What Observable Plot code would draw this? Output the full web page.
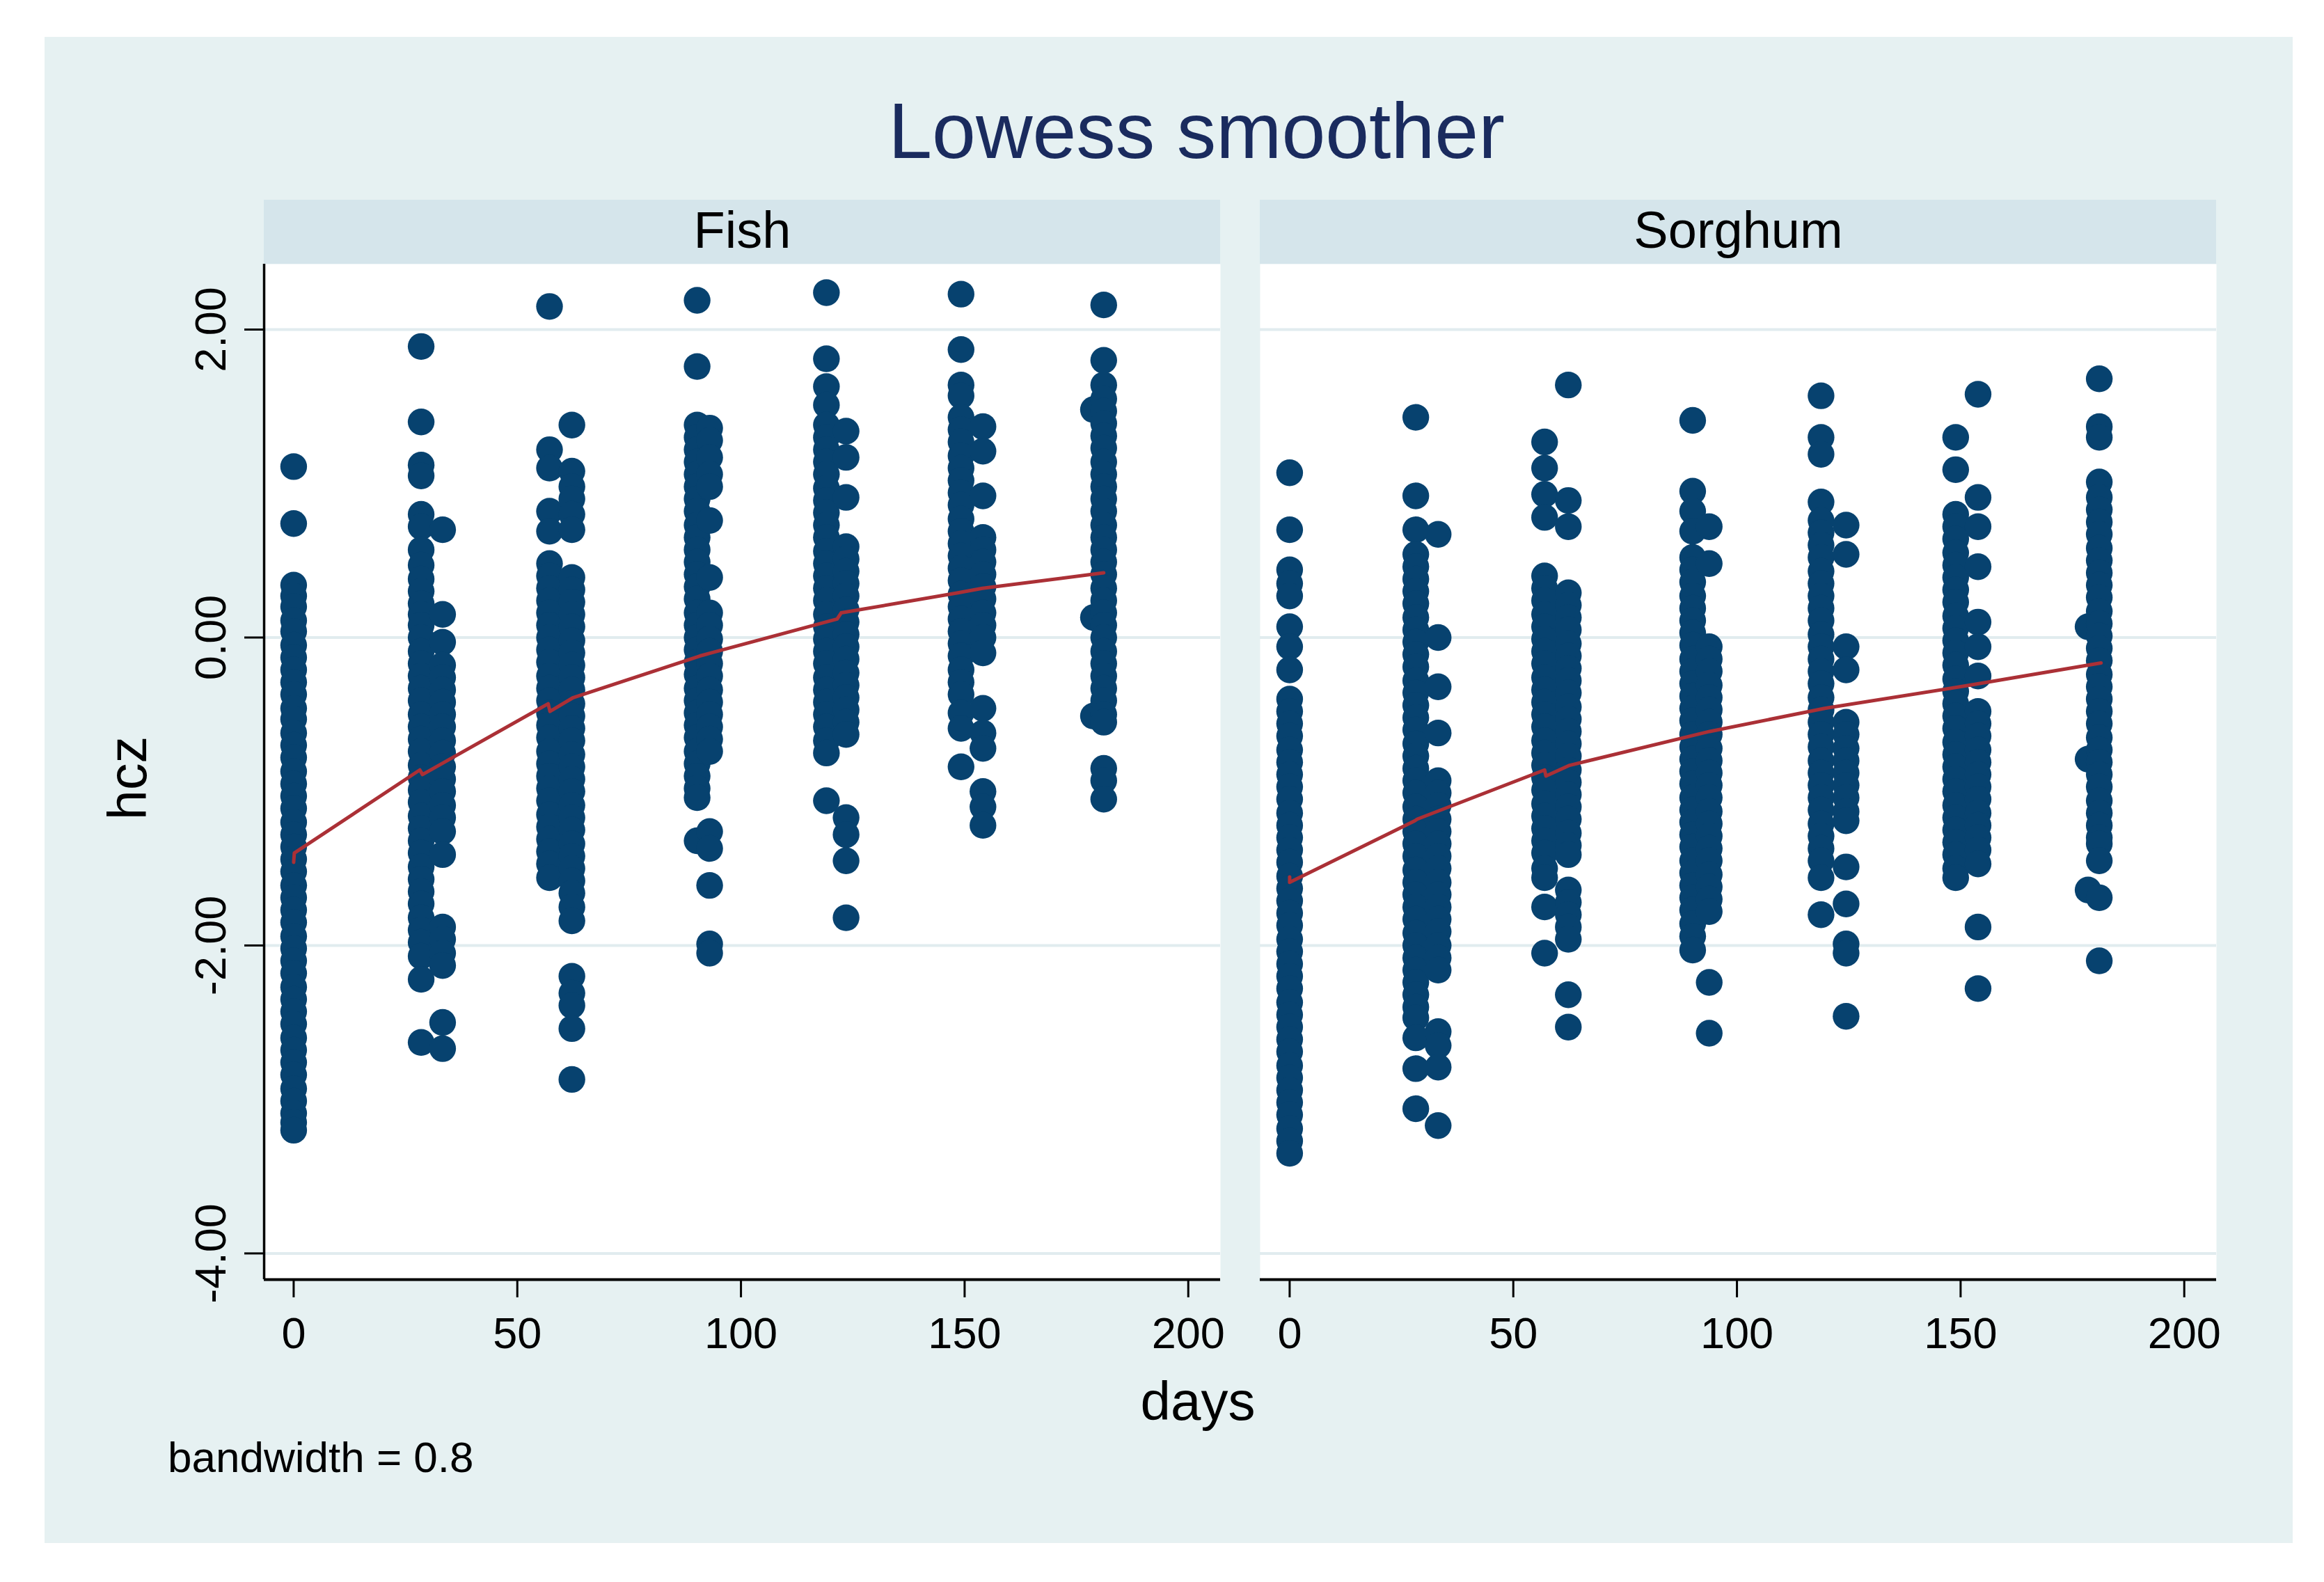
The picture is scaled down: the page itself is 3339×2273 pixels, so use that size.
<!DOCTYPE html>
<html><head><meta charset="utf-8">
<script src="https://cdn.jsdelivr.net/npm/d3@7"></script>
<script src="https://cdn.jsdelivr.net/npm/@observablehq/plot@0.6"></script>
<style>
html,body{margin:0;padding:0;background:#fff;}
#wrap{position:relative;width:3339px;height:2273px;font-family:"Liberation Sans",Arial,Helvetica,sans-serif;overflow:hidden;}
#bg{position:absolute;left:64px;top:53px;width:3230px;height:2164px;background:#e6f1f2;}
#chart{position:absolute;left:0;top:0;}
.t{position:absolute;white-space:nowrap;line-height:1;color:#000;}
#title{left:1719px;top:132px;font-size:113px;color:#1a2b5e;transform:translateX(-50%);}
#xlab{left:1721px;top:1974px;font-size:78px;transform:translateX(-50%);}
#ylab{left:210px;top:1118px;font-size:77px;transform-origin:0 0;transform:rotate(-90deg) translate(-50%,-0.8465em);}
#note{left:241px;top:2063px;font-size:62px;white-space:pre;}
</style></head><body>
<div id="wrap">
  <div id="bg"></div>
  <div id="chart"></div>
  <div class="t" id="title">Lowess smoother</div>
  <div class="t" id="xlab">days</div>
  <div class="t" id="ylab">hcz</div>
  <div class="t" id="note">bandwidth = 0.8</div>
</div>
<script>
// ---------------- data ----------------
const panels = ["Fish", "Sorghum"];
const xTicks = [0, 50, 100, 150, 200];
const yTicks = [2, 0, -2, -4];
const xDomain = [-6.6, 207.2];
const yDomain = [-4.17, 2.425];

const fishDays = [0, 28.5, 33.3, 57.2, 62.2, 90.2, 93.0, 119.1, 123.5, 149.2, 154.1, 178.8, 181.1];
const fishHcz = [
  [1.11, 0.74, 0.34, 0.27, 0.2, 0.11, 0.04, -0.05, -0.13, -0.21, -0.29, -0.37, -0.46, -0.53, -0.62, -0.7, -0.78, -0.87, -0.95, -1.03, -1.11, -1.2, -1.28, -1.36, -1.44, -1.52, -1.61, -1.69, -1.77, -1.85, -1.94, -2.02, -2.1, -2.18, -2.27, -2.35, -2.43, -2.51, -2.6, -2.68, -2.76, -2.84, -2.93, -3.01, -3.09, -3.15, -3.2],
  [1.89, 1.40, 1.12, 1.05, 0.80, 0.72, 0.57, 0.47, 0.38, 0.3, 0.22, 0.15, 0.08, 0.0, -0.09, -0.17, -0.25, -0.33, -0.41, -0.5, -0.58, -0.66, -0.74, -0.83, -0.91, -0.99, -1.07, -1.16, -1.24, -1.32, -1.4, -1.49, -1.57, -1.65, -1.73, -1.82, -1.9, -1.98, -2.07, -2.22, -2.63],
  [0.70, 0.15, -0.03, -0.18, -0.26, -0.34, -0.42, -0.5, -0.58, -0.67, -0.75, -0.84, -0.92, -1.0, -1.09, -1.17, -1.26, -1.41, -1.88, -1.96, -2.05, -2.13, -2.5, -2.67],
  [2.15, 1.22, 1.10, 0.82, 0.69, 0.48, 0.4, 0.32, 0.24, 0.16, 0.08, 0.0, -0.08, -0.16, -0.25, -0.33, -0.41, -0.49, -0.57, -0.65, -0.74, -0.82, -0.9, -0.98, -1.06, -1.15, -1.23, -1.31, -1.39, -1.47, -1.56],
  [1.38, 1.08, 0.98, 0.90, 0.80, 0.70, 0.39, 0.31, 0.23, 0.15, 0.07, -0.02, -0.1, -0.18, -0.26, -0.34, -0.43, -0.51, -0.59, -0.67, -0.76, -0.84, -0.92, -1.0, -1.09, -1.17, -1.25, -1.34, -1.42, -1.5, -1.58, -1.66, -1.75, -1.84, -2.2, -2.31, -2.39, -2.54, -2.87],
  [2.19, 1.76, 1.38, 1.3, 1.22, 1.14, 1.06, 0.98, 0.9, 0.82, 0.73, 0.65, 0.57, 0.49, 0.41, 0.33, 0.25, 0.16, 0.08, 0.0, -0.08, -0.16, -0.24, -0.33, -0.41, -0.49, -0.57, -0.65, -0.74, -0.82, -0.9, -0.98, -1.04, -1.32],
  [1.36, 1.28, 1.17, 1.06, 0.98, 0.76, 0.39, 0.16, 0.08, -0.01, -0.09, -0.17, -0.25, -0.34, -0.42, -0.5, -0.58, -0.66, -0.74, -1.26, -1.37, -1.61, -1.99, -2.05],
  [2.24, 1.81, 1.63, 1.51, 1.38, 1.3, 1.22, 1.14, 1.06, 0.97, 0.89, 0.81, 0.73, 0.65, 0.56, 0.48, 0.4, 0.32, 0.24, 0.15, 0.07, -0.01, -0.09, -0.17, -0.26, -0.34, -0.42, -0.5, -0.58, -0.67, -0.75, -1.06],
  [1.34, 1.17, 0.91, 0.59, 0.51, 0.43, 0.35, 0.27, 0.18, 0.1, 0.02, -0.06, -0.14, -0.23, -0.31, -0.39, -0.47, -0.55, -0.63, -1.17, -1.28, -1.45, -1.82],
  [2.23, 1.87, 1.64, 1.57, 1.43, 1.35, 1.27, 1.18, 1.1, 1.02, 0.94, 0.86, 0.77, 0.69, 0.61, 0.53, 0.45, 0.37, 0.28, 0.2, 0.12, 0.04, -0.04, -0.12, -0.21, -0.29, -0.37, -0.49, -0.59, -0.84],
  [1.37, 1.21, 0.92, 0.65, 0.57, 0.49, 0.41, 0.33, 0.25, 0.16, 0.08, 0.0, -0.1, -0.46, -0.62, -0.72, -1.0, -1.1, -1.22],
  [1.48, 0.13, -0.51],
  [2.16, 1.80, 1.64, 1.55, 1.47, 1.39, 1.31, 1.23, 1.14, 1.06, 0.98, 0.9, 0.82, 0.73, 0.65, 0.57, 0.49, 0.41, 0.32, 0.24, 0.16, 0.08, 0.0, -0.09, -0.17, -0.25, -0.33, -0.41, -0.5, -0.55, -0.85, -0.93, -1.05]
];

const sorghumDays = [0, 28.2, 33.2, 57.0, 62.3, 90.1, 93.8, 118.8, 124.4, 148.9, 153.9, 178.5, 181.0];
const sorghumHcz = [
  [1.07, 0.70, 0.44, 0.35, 0.27, 0.07, -0.06, -0.21, -0.4, -0.48, -0.56, -0.64, -0.73, -0.81, -0.89, -0.97, -1.05, -1.14, -1.22, -1.3, -1.38, -1.46, -1.55, -1.63, -1.71, -1.79, -1.87, -1.96, -2.04, -2.12, -2.2, -2.28, -2.37, -2.45, -2.53, -2.61, -2.69, -2.78, -2.86, -2.94, -3.02, -3.1, -3.19, -3.27, -3.35],
  [1.43, 0.92, 0.70, 0.54, 0.46, 0.38, 0.3, 0.22, 0.13, 0.05, -0.03, -0.11, -0.19, -0.28, -0.36, -0.44, -0.52, -0.6, -0.69, -0.77, -0.85, -0.93, -1.01, -1.1, -1.18, -1.26, -1.34, -1.42, -1.51, -1.59, -1.67, -1.75, -1.83, -1.92, -2.0, -2.08, -2.16, -2.24, -2.32, -2.40, -2.47, -2.60, -2.80, -3.06],
  [0.67, 0.0, -0.32, -0.62, -0.93, -1.01, -1.09, -1.18, -1.26, -1.34, -1.42, -1.5, -1.59, -1.67, -1.75, -1.83, -1.91, -2.0, -2.08, -2.16, -2.56, -2.65, -2.79, -3.17],
  [1.27, 1.10, 0.93, 0.78, 0.40, 0.32, 0.24, 0.15, 0.07, -0.01, -0.09, -0.17, -0.26, -0.34, -0.42, -0.5, -0.58, -0.67, -0.75, -0.83, -0.91, -0.99, -1.08, -1.16, -1.24, -1.32, -1.4, -1.5, -1.56, -1.75, -2.05],
  [1.64, 0.89, 0.72, 0.29, 0.21, 0.13, 0.05, -0.04, -0.12, -0.2, -0.28, -0.36, -0.45, -0.53, -0.61, -0.69, -0.77, -0.86, -0.94, -1.02, -1.1, -1.18, -1.27, -1.35, -1.41, -1.64, -1.72, -1.8, -1.88, -1.96, -2.32, -2.53],
  [1.41, 0.95, 0.82, 0.69, 0.52, 0.44, 0.36, 0.27, 0.19, 0.11, 0.03, -0.05, -0.14, -0.22, -0.3, -0.38, -0.46, -0.54, -0.63, -0.71, -0.79, -0.87, -0.95, -1.04, -1.12, -1.2, -1.28, -1.36, -1.45, -1.53, -1.61, -1.69, -1.77, -1.86, -1.94, -2.03],
  [0.72, 0.48, -0.06, -0.14, -0.22, -0.31, -0.39, -0.47, -0.55, -0.63, -0.72, -0.8, -0.88, -0.96, -1.04, -1.13, -1.21, -1.29, -1.37, -1.45, -1.54, -1.62, -1.7, -1.78, -2.24, -2.57],
  [1.57, 1.30, 1.19, 0.88, 0.76, 0.68, 0.6, 0.52, 0.43, 0.35, 0.27, 0.19, 0.11, 0.02, -0.06, -0.14, -0.22, -0.3, -0.39, -0.47, -0.55, -0.63, -0.71, -0.8, -0.88, -0.96, -1.04, -1.12, -1.21, -1.29, -1.37, -1.45, -1.56, -1.80],
  [0.73, 0.54, -0.06, -0.21, -0.55, -0.63, -0.72, -0.8, -0.88, -0.96, -1.04, -1.13, -1.19, -1.49, -1.73, -1.99, -2.05, -2.46],
  [1.30, 1.09, 0.80, 0.72, 0.64, 0.55, 0.47, 0.39, 0.31, 0.23, 0.14, 0.06, -0.02, -0.1, -0.18, -0.27, -0.35, -0.43, -0.51, -0.59, -0.68, -0.76, -0.84, -0.92, -1.0, -1.09, -1.17, -1.25, -1.33, -1.41, -1.5, -1.56],
  [1.58, 0.91, 0.72, 0.46, 0.10, -0.06, -0.25, -0.48, -0.56, -0.64, -0.73, -0.81, -0.89, -0.97, -1.05, -1.14, -1.22, -1.3, -1.38, -1.47, -1.88, -2.28],
  [0.07, -0.79, -1.64],
  [1.68, 1.37, 1.30, 1.01, 0.91, 0.83, 0.75, 0.67, 0.58, 0.5, 0.42, 0.34, 0.26, 0.17, 0.09, 0.01, -0.07, -0.15, -0.24, -0.32, -0.4, -0.48, -0.56, -0.65, -0.73, -0.81, -0.89, -0.97, -1.06, -1.14, -1.22, -1.3, -1.34, -1.45, -1.69, -2.10]
];

// lowess fitted line
const fishLowDays = [0, 0.15, 28.2, 28.8, 56.9, 57.3, 62.5, 90.8, 93.3, 121.5, 122.4, 148.5, 154, 181.1];
const fishLowHcz = [-1.46, -1.40, -0.86, -0.89, -0.43, -0.48, -0.39, -0.12, -0.10, 0.12, 0.16, 0.29, 0.32, 0.42];
const sorghumLowDays = [0, 0, 28.0, 28.5, 57.0, 57.3, 62.6, 93.9, 119.6, 152, 181.4];
const sorghumLowHcz = [-1.555, -1.59, -1.19, -1.18, -0.86, -0.90, -0.83, -0.61, -0.46, -0.31, -0.165];

// ---------------- build tables ----------------
const points = [];
fishDays.forEach((d, i) => fishHcz[i].forEach(v => points.push({panel: "Fish", days: d, hcz: v})));
sorghumDays.forEach((d, i) => sorghumHcz[i].forEach(v => points.push({panel: "Sorghum", days: d, hcz: v})));
const lowess = [];
fishLowDays.forEach((d, i) => lowess.push({panel: "Fish", days: d, hcz: fishLowHcz[i]}));
sorghumLowDays.forEach((d, i) => lowess.push({panel: "Sorghum", days: d, hcz: sorghumLowHcz[i]}));

// strip (facet header band) drawn from the scales
function strip(index, scales) {
  const x0 = scales.x(xDomain[0]), x1 = scales.x(xDomain[1]);
  const yTop = scales.y(yDomain[1]);
  const g = d3.create("svg:g");
  g.append("rect").attr("x", x0).attr("width", x1 - x0)
    .attr("y", yTop - 92).attr("height", 92).attr("fill", "#d5e5eb");
  return g.node();
}

const chart = Plot.plot({
  width: 3339,
  height: 2273,
  marginTop: 379,
  marginBottom: 435,
  marginLeft: 379,
  marginRight: 155,
  style: {background: "transparent", fontFamily: "'Liberation Sans', Arial, sans-serif", color: "#000"},
  fx: {domain: panels, paddingInner: 0.0398, paddingOuter: 0, round: false, axis: null, label: null},
  x: {domain: xDomain, label: null},
  y: {domain: yDomain, label: null},
  marks: [
    Plot.frame({fill: "white", stroke: null}),
    strip,
    Plot.text(panels, {fx: d => d, text: d => d, frameAnchor: "top", dy: -24, lineAnchor: "bottom", fontSize: 74, fill: "#000"}),
    Plot.gridY(yTicks, {stroke: "#e1ecef", strokeOpacity: 1, strokeWidth: 4}),
    Plot.dot(points, {x: "days", y: "hcz", fx: "panel", r: 19.2, fill: "#07426f", stroke: null}),
    Plot.line(lowess, {x: "days", y: "hcz", fx: "panel", z: "panel", stroke: "#ab3036", strokeWidth: 5}),
    Plot.ruleY([yDomain[0]], {stroke: "#000", strokeWidth: 4}),
    Plot.ruleX([{panel: "Fish", v: xDomain[0]}], {x: "v", fx: "panel", stroke: "#000", strokeWidth: 3.5}),
    Plot.axisX(xTicks, {anchor: "bottom", tickSize: 26, tickPadding: 28, fontSize: 63, strokeWidth: 3, label: null, tickFormat: d => String(d)}),
    Plot.axisY(yTicks, {anchor: "left", tickSize: 28, tickPadding: 28, tickRotate: -90, fontSize: 63, strokeWidth: 3, label: null, tickFormat: d => d.toFixed(2)})
  ]
});
document.getElementById("chart").appendChild(chart);
</script>
</body></html>
